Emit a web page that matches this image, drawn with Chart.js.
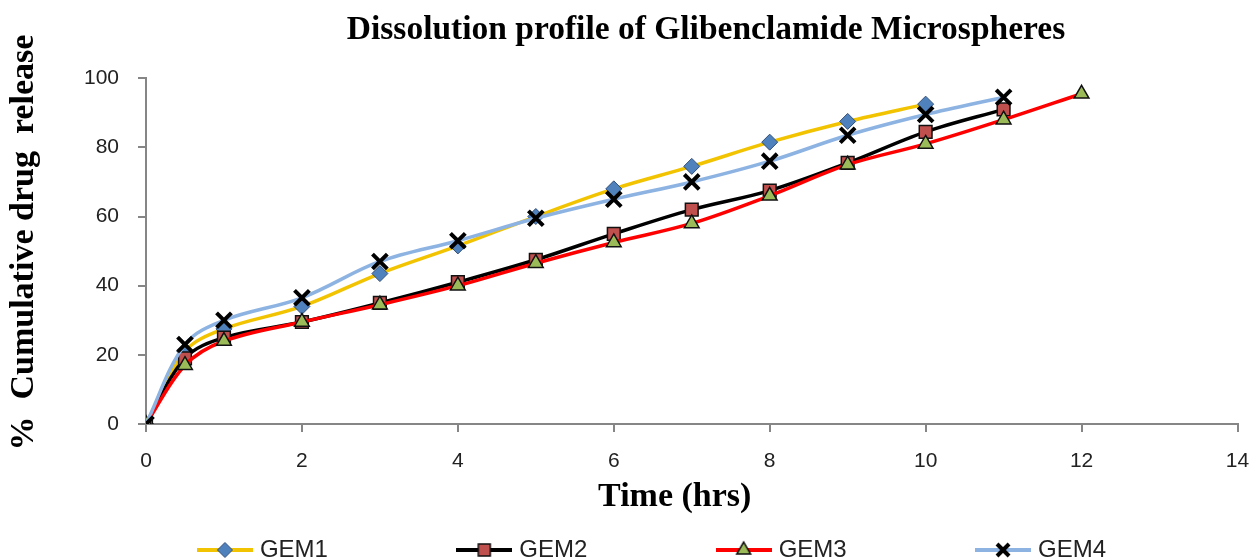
<!DOCTYPE html>
<html>
<head>
<meta charset="utf-8">
<script src="https://cdn.jsdelivr.net/npm/chart.js@4.4.1/dist/chart.umd.min.js"></script>
<style>
  html, body { margin: 0; padding: 0; background: #fff; }
  #wrap { width: 1252px; height: 559px; }
</style>
</head>
<body>
<div id="wrap"><canvas id="grafica" width="1252" height="559"></canvas></div>
<script>
// Perfil de disolución
const tiempos = [0, 0.5, 1, 2, 3, 4, 5, 6, 7, 8, 9, 10, 11, 12];
const gem1 = [0, 21, 27.5, 34, 43.5, 51.5, 60, 68, 74.5, 81.5, 87.5, 92.5];
const gem2 = [0, 19, 25, 29.5, 35, 41, 47.5, 55, 62, 67.5, 75.5, 84.5, 91];
const gem3 = [0, 17, 24, 29.5, 34.5, 40, 46.5, 52.5, 58, 66, 75, 81, 88, 95.5];
const gem4 = [0, 23, 30, 36.5, 47, 53, 59.5, 65, 70, 76, 83.5, 89.5, 94.5];
const nombres = ['GEM1', 'GEM2', 'GEM3', 'GEM4'];
const ticksX = [0, 2, 4, 6, 8, 10, 12, 14];
const ticksY = [0, 20, 40, 60, 80, 100];

const series = [
  { datos: gem1, linea: '#F2C300', relleno: '#4F81BD', borde: '#2F4F7A', forma: 'rectRot', radio: 8, radioLey: 7.5, ancho: 1 },
  { datos: gem2, linea: '#000000', relleno: '#C0504D', borde: '#111111', forma: 'rect', radio: 9, radioLey: 8.5, ancho: 1.5 },
  { datos: gem3, linea: '#FF0000', relleno: '#9BBB59', borde: '#111111', forma: 'triangle', radio: 8.5, radioLey: 8, ancho: 1.5 },
  { datos: gem4, linea: '#8DB3E2', relleno: '#000000', borde: '#000000', forma: 'crossRot', radio: 10.5, radioLey: 8.5, ancho: 4 }
];

// Icono de leyenda: línea con el marcador en el centro
function iconoLeyenda(s) {
  const c = document.createElement('canvas');
  c.width = 56; c.height = 22;
  const ctx = c.getContext('2d');
  ctx.strokeStyle = s.linea;
  ctx.lineWidth = 4;
  ctx.beginPath(); ctx.moveTo(0, 11); ctx.lineTo(56, 11); ctx.stroke();
  ctx.fillStyle = s.relleno;
  ctx.strokeStyle = s.borde;
  ctx.lineWidth = s.ancho;
  Chart.helpers.drawPoint(ctx, { pointStyle: s.forma, radius: s.radioLey, rotation: 0, borderWidth: s.ancho }, 28, 11);
  return c;
}

const datasets = series.map((s, i) => ({
  label: nombres[i],
  data: s.datos.map((v, j) => ({ x: tiempos[j], y: v })),
  borderColor: s.linea,
  borderWidth: 3.5,
  tension: 0.35,
  pointStyle: s.forma,
  pointRadius: s.radio,
  pointBackgroundColor: s.relleno,
  pointBorderColor: s.borde,
  pointBorderWidth: s.ancho,
  order: 4 - i,
  icono: iconoLeyenda(s)
}));

// Ajustes de la leyenda y del título como en la figura original
const desplazar = {
  id: 'desplazar',
  afterInit(chart) {
    const fitOriginal = chart.legend.fit;
    chart.legend.fit = function () { fitOriginal.call(this); this.height = 21; };
  },
  afterLayout(chart) {
    chart.titleBlock.left += 81; chart.titleBlock.right += 81;
    chart.legend.left += 29; chart.legend.right += 29;
  }
};

const serif = '"Liberation Serif", "Times New Roman", serif';
const sans = '"Liberation Sans", Arial, sans-serif';
const relleno = ' '.repeat(20);

new Chart(document.getElementById('grafica').getContext('2d'), {
  type: 'line',
  data: { datasets: datasets },
  plugins: [desplazar],
  options: {
    responsive: false,
    animation: false,
    layout: { padding: { left: 0, right: 2, top: 0, bottom: 0 } },
    scales: {
      x: {
        type: 'linear',
        min: 0, max: 14,
        afterBuildTicks: ax => { ax.ticks = ticksX.map(v => ({ value: v })); },
        afterFit: ax => { ax.height = 114; ax.paddingRight = 14; },
        grid: { drawOnChartArea: false, drawTicks: true, tickLength: 8, color: '#868686', lineWidth: 2 },
        border: { color: '#868686', width: 2 },
        ticks: { color: '#222', font: { family: sans, size: 21 }, padding: 17 },
        title: { display: true, text: 'Time (hrs)    ', color: '#000', font: { family: serif, size: 34, weight: 'bold' }, padding: { top: 3, bottom: 20 } }
      },
      y: {
        min: 0, max: 100,
        afterBuildTicks: ax => { ax.ticks = ticksY.map(v => ({ value: v })); },
        afterFit: ax => { ax.width = 146; },
        grid: { drawOnChartArea: false, drawTicks: true, tickLength: 8, color: '#868686', lineWidth: 2 },
        border: { color: '#868686', width: 2 },
        ticks: { color: '#222', font: { family: sans, size: 21 }, padding: 19 },
        title: { display: true, text: '  %  Cumulative drug  release', color: '#000', font: { family: serif, size: 34, weight: 'bold' }, padding: { top: 4, bottom: 30 } }
      }
    },
    plugins: {
      title: {
        display: true,
        text: 'Dissolution profile of Glibenclamide Microspheres',
        color: '#000',
        font: { family: serif, size: 33.5, weight: 'bold' },
        padding: { top: 10, bottom: 28 }
      },
      legend: {
        position: 'bottom',
        labels: {
          usePointStyle: true,
          pointStyleWidth: 46,
          color: '#222',
          font: { family: sans, size: 24 },
          padding: 0,
          generateLabels: chart => chart.data.datasets.map((d, i) => ({
            text: i < 3 ? d.label + relleno : d.label,
            pointStyle: d.icono,
            fillStyle: d.borderColor,
            strokeStyle: d.borderColor,
            lineWidth: 0,
            fontColor: '#222',
            datasetIndex: i,
            hidden: false
          }))
        }
      },
      tooltip: { enabled: false }
    }
  }
});
</script>
</body>
</html>
